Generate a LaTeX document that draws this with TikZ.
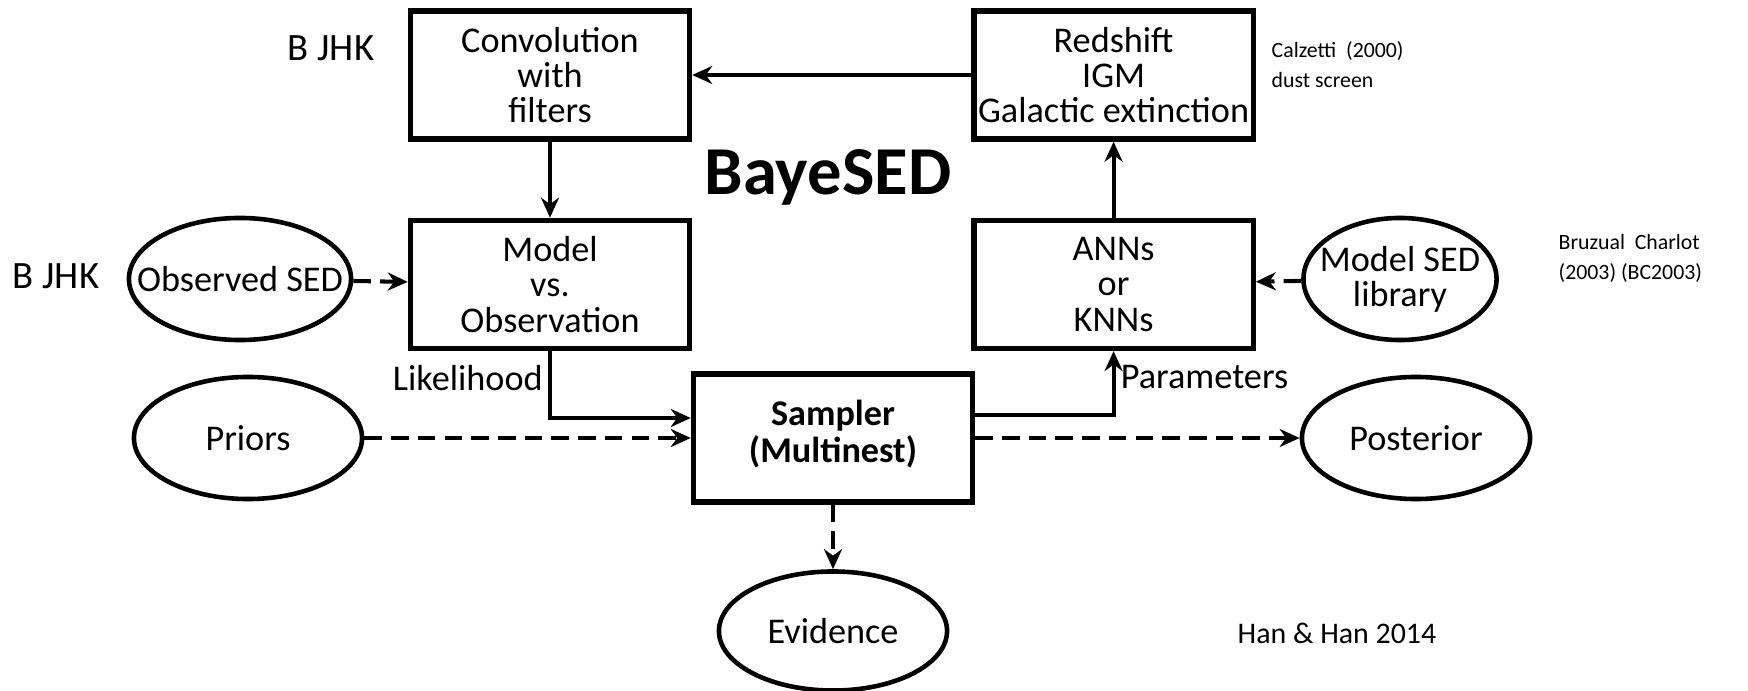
\documentclass[tikz,border=0pt]{standalone}
\usepackage{fontspec}
\setmainfont{Carlito}
\usepackage{tikz}
\usetikzlibrary{arrows.meta,positioning,shapes.geometric,calc}
\tikzset{
  box/.style={draw,line width=1.5pt,minimum width=2.79cm,minimum height=1.28cm,inner sep=0pt,align=center,font=\fontsize{10.3}{10}\selectfont},
  boxbold/.style={box,font=\fontsize{10.3}{10.6}\selectfont\bfseries},
  blob/.style={draw,ellipse,line width=1.3pt,minimum width=2.28cm,minimum height=1.22cm,inner sep=0pt,align=center,font=\fontsize{10.3}{10}\selectfont},
  arrow/.style={-{Stealth[length=2mm,width=1.8mm]},line width=1.15pt},
  dasharrow/.style={arrow,dash pattern=on 5pt off 2.6pt},
  lbl/.style={font=\fontsize{10.3}{10}\selectfont,inner sep=1.5pt},
  note/.style={inner sep=0pt,align=left}
}
\begin{document}
\begin{tikzpicture}[x=0.01cm,y=-0.01cm,node distance=0.76cm and 2.79cm]
  \useasboundingbox (0,0) rectangle (1748,691);

  \node[box] (conv) at (550,75) {Convolution\\with\\filters};
  \node[box,right=of conv] (redshift) {Redshift\\IGM\\Galactic extinction};
  \node[box,below=of conv] (model) {Model\\vs.\\Observation};
  \node[box,below=of redshift] (anns) {ANNs\\or\\KNNs};
  \node[boxbold] (sampler) at (833,438) {Sampler\\(Multinest)\\[-6.8pt]};

  \node[blob,minimum width=2.22cm,inner xsep=-0.26cm] (obs) at (240,279) {Observed SED};
  \node[blob,minimum width=1.93cm,inner xsep=-0.13cm] (lib) at (1400,279) {Model SED\\library};
  \node[blob] (priors) at (248,438) {Priors};
  \node[blob] (post) at (1416,438) {Posterior};
  \node[blob,minimum height=1.19cm] (evid) at (833,631) {Evidence};

  \node[font=\fontsize{19.5}{20}\selectfont\bfseries] (title) at (828,177) {BayeSED};
  \node[font=\fontsize{11}{12}\selectfont] (bjhktop) at (331,48) {B JHK};
  \node[font=\fontsize{11}{12}\selectfont] (bjhkleft) at (56,276) {B JHK};
  \node[note,anchor=west,font=\fontsize{6.2}{8.5}\selectfont] (calz) at (1271,65) {Calzetti\ \ (2000)\\dust screen};
  \node[note,anchor=west,font=\fontsize{6.2}{8.5}\selectfont] (bruz) at (1558,258) {Bruzual\ \ Charlot\\(2003) (BC2003)};
  \node[font=\fontsize{8.5}{10}\selectfont] (han) at (1337,633) {Han \& Han 2014};

  \draw[arrow] (redshift) -- (conv);
  \draw[arrow] (conv) -- (model);
  \draw[arrow] (anns) -- (redshift);

  \draw[dasharrow] (obs) -- (model);
  \draw[dasharrow] (lib) -- (anns);

  \draw[arrow] (model.south) |- node[lbl,left,pos=0.2]{Likelihood} ([yshift=0.2cm]sampler.west);
  \draw[arrow] ([yshift=0.23cm]sampler.east) -| node[lbl,right,pos=0.8]{Parameters} (anns.south);

  \draw[dasharrow] (priors) -- (sampler);
  \draw[dasharrow] (sampler) -- (post);
  \draw[dasharrow] (sampler) -- (evid);
\end{tikzpicture}
\end{document}
